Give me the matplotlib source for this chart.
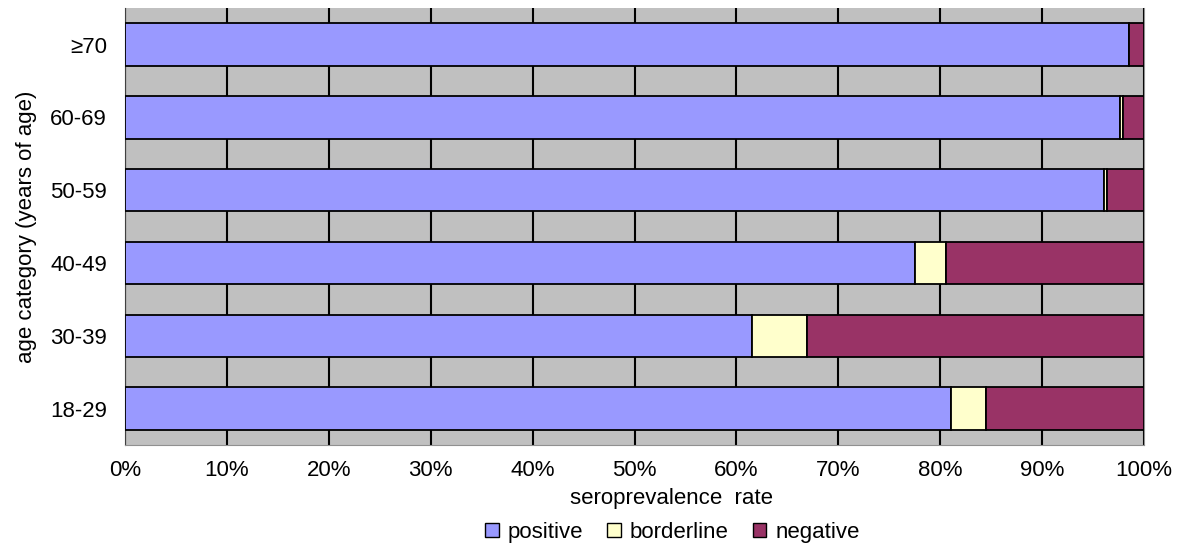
import matplotlib
matplotlib.use("Agg")
import matplotlib.pyplot as plt
import numpy as np
from matplotlib.ticker import FuncFormatter

# data (percent of each age group)
categories = ['18-29', '30-39', '40-49', '50-59', '60-69', '\u226570']
positive = [81.1, 61.5, 77.5, 96.1, 97.6, 98.5]
borderline = [3.4, 5.4, 3.1, 0.3, 0.3, 0.0]
negative = [15.5, 33.1, 19.4, 3.6, 2.1, 1.5]

series = [('positive', positive, '#9999ff'),
          ('borderline', borderline, '#ffffcc'),
          ('negative', negative, '#993366')]

plt.rcParams['font.family'] = ['Liberation Sans', 'DejaVu Sans']
fs = 16

fig = plt.figure(figsize=(11.88, 5.46), dpi=100)
ax = fig.add_axes([0.1052, 0.185, 0.8578, 0.800])
ax.set_facecolor('#c0c0c0')

y = np.arange(len(categories))
left = np.zeros(len(categories))
handles = []
for name, vals, col in series:
    b = ax.barh(y, vals, left=left, height=0.58, color=col,
                edgecolor='black', linewidth=1.3, label=name, zorder=3)
    handles.append(b)
    left += np.array(vals)

ax.set_xlim(0, 100)
ax.set_ylim(-0.5, len(categories) - 0.5)
ax.set_xticks(np.arange(0, 101, 10))
ax.xaxis.set_major_formatter(FuncFormatter(lambda v, p: '%d%%' % v))
ax.set_yticks(y)
ax.set_yticklabels(categories)
ax.tick_params(axis='both', length=0, labelsize=fs)
ax.tick_params(axis='x', pad=11)
ax.tick_params(axis='y', pad=13)
ax.grid(axis='x', color='black', linewidth=1.5, zorder=1)
ax.set_axisbelow(True)

ax.spines['top'].set_visible(False)
ax.spines['left'].set_color('#404040')
ax.spines['bottom'].set_color('#909090')
ax.spines['right'].set_color('#909090')

ax.set_xlabel('seroprevalence  rate', fontsize=fs)
ax.xaxis.set_label_coords(0.536, -0.098)
ax.set_ylabel('age category (years of age)', fontsize=fs)
ax.yaxis.set_label_coords(-0.086, 0.5)

leg = fig.legend(handles=handles, loc='center', bbox_to_anchor=(0.566, 0.025),
                 ncol=3, frameon=False, fontsize=fs, handlelength=0.6,
                 handleheight=0.6, handletextpad=0.4, columnspacing=1.1)
for h in leg.legend_handles:
    h.set_linewidth(1.0)

fig.savefig('out.png', dpi=100)
